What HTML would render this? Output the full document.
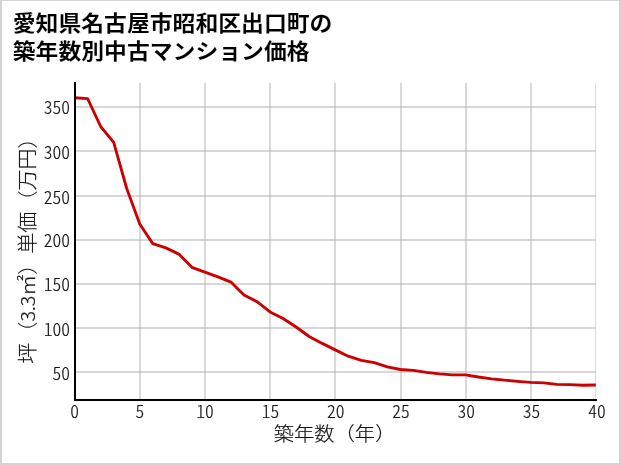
<!DOCTYPE html>
<html lang="ja"><head><meta charset="utf-8"><title>築年数別中古マンション価格</title>
<style>
html,body{margin:0;padding:0;background:#fff;}
body{width:621px;height:465px;overflow:hidden;}
svg{display:block;}
.t{font-family:"Noto Sans CJK JP","Liberation Sans",sans-serif;font-weight:bold;font-size:22.85px;fill:#000;stroke:#fff;stroke-width:0.1px;}
.l{font-family:"Noto Sans CJK JP","Liberation Sans",sans-serif;font-weight:300;font-size:20.2px;fill:#111;stroke:#111;stroke-width:0.18px;}
.k{font-family:"Noto Sans CJK JP","Liberation Sans",sans-serif;font-weight:300;font-size:17.5px;fill:#111;stroke:#111;stroke-width:0.18px;font-feature-settings:"hwid";}
</style></head><body>
<svg width="621" height="465" viewBox="0 0 621 465">
<rect x="0" y="0" width="621" height="465" fill="#d3d3d3"/>
<rect x="2" y="1" width="617" height="462" fill="#ffffff"/>
<text class="t" transform="translate(12.7,31.1) scale(1,0.935)">愛知県名古屋市昭和区出口町の</text>
<text class="t" transform="translate(12.7,58.8) scale(1,0.935)">築年数別中古マンション価格</text>
<clipPath id="g"><rect x="75.2" y="82.7" width="520.7" height="317.3"/></clipPath>
<g clip-path="url(#g)" stroke="#b0b0b0" stroke-opacity="0.68" stroke-width="1.4" fill="none">
<line x1="140" y1="80" x2="140" y2="401"/>
<line x1="205" y1="80" x2="205" y2="401"/>
<line x1="270" y1="80" x2="270" y2="401"/>
<line x1="335" y1="80" x2="335" y2="401"/>
<line x1="401" y1="80" x2="401" y2="401"/>
<line x1="466" y1="80" x2="466" y2="401"/>
<line x1="531" y1="80" x2="531" y2="401"/>
<line x1="596" y1="80" x2="596" y2="401"/>
<line x1="74" y1="107" x2="598" y2="107"/>
<line x1="74" y1="151" x2="598" y2="151"/>
<line x1="74" y1="196" x2="598" y2="196"/>
<line x1="74" y1="240" x2="598" y2="240"/>
<line x1="74" y1="284" x2="598" y2="284"/>
<line x1="74" y1="328" x2="598" y2="328"/>
<line x1="74" y1="372" x2="598" y2="372"/>
</g>
<clipPath id="c"><rect x="75.2" y="82" width="520.8" height="318"/></clipPath>
<polyline clip-path="url(#c)" points="74.60,97.70 87.63,98.60 100.66,126.50 113.69,142.30 126.72,188.50 139.75,224.00 152.78,243.60 165.81,247.90 178.84,254.10 191.87,267.30 204.90,272.20 217.93,276.90 230.96,282.10 243.99,295.00 257.02,301.70 270.05,311.90 283.08,318.50 296.11,327.00 309.14,336.50 322.17,343.40 335.20,349.90 348.23,356.20 361.26,360.30 374.29,362.60 387.32,366.80 400.35,369.50 413.38,370.40 426.41,372.35 439.44,373.90 452.47,374.80 465.50,374.90 478.53,377.00 491.56,378.80 504.59,380.20 517.62,381.30 530.65,382.40 543.68,382.80 556.71,384.35 569.74,384.70 582.77,385.25 595.80,385.00" fill="none" stroke="#cc0000" stroke-width="2.85" stroke-linejoin="round" stroke-linecap="butt"/>
<line x1="75" y1="82" x2="75" y2="401" stroke="#000" stroke-width="2"/>
<line x1="74" y1="400" x2="597" y2="400" stroke="#000" stroke-width="2"/>
<g class="k" text-anchor="end">
<text x="70.0" y="114.0">350</text>
<text x="70.0" y="158.6">300</text>
<text x="70.0" y="203.5">250</text>
<text x="70.0" y="247.4">200</text>
<text x="70.0" y="290.8">150</text>
<text x="70.0" y="335.8">100</text>
<text x="70.0" y="379.8">50</text>
</g>
<g class="k" text-anchor="middle">
<text x="74.5" y="418.2">0</text>
<text x="139.8" y="418.2">5</text>
<text x="205.1" y="418.2">10</text>
<text x="270.4" y="418.2">15</text>
<text x="335.7" y="418.2">20</text>
<text x="401.0" y="418.2">25</text>
<text x="466.3" y="418.2">30</text>
<text x="531.6" y="418.2">35</text>
<text x="596.9" y="418.2">40</text>
</g>
<text class="l" style="font-size:20.27px" transform="translate(273.8,440.9) scale(1,0.942)">築年数（年）</text>
<text class="l" style="font-size:21.08px" transform="translate(34.5,363.7) rotate(-90) scale(1,0.949)">坪（<tspan style="font-size:19.5px">3.3</tspan>㎡）単価（万円）</text>
</svg></body></html>
